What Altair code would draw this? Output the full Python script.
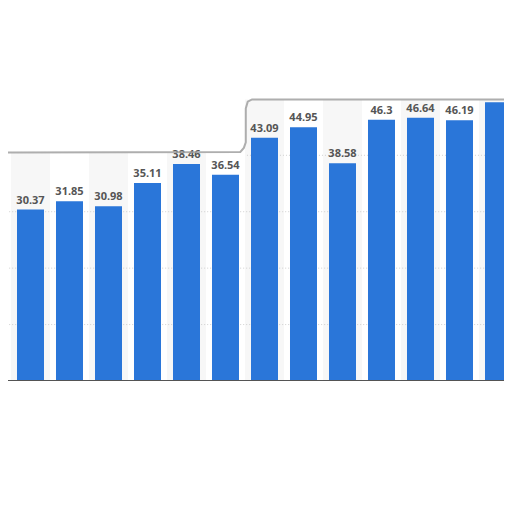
import altair as alt
import pandas as pd

# bar data (index -1 and 12 are partly cut off by the frame)
idx = [-1, 0, 1, 2, 3, 4, 5, 6, 7, 8, 9, 10, 11, 12]
values = [28.75, 30.37, 31.85, 30.98, 35.11, 38.46, 36.54, 43.09, 44.95, 38.58, 46.3, 46.64, 46.19, 49.4]
labels = ["28.75", "30.37", "31.85", "30.98", "35.11", "38.46", "36.54", "43.09", "44.95", "38.58", "46.3", "46.64", "46.19", ""]

# panel (card) top edge per column, in value units
panel_top = [40.5, 40.5, 40.5, 40.5, 40.5, 40.5, 40.5, 49.9, 49.9, 49.9, 49.9, 49.9, 49.9, 49.9]

# outline of the card edge (step with rounded corners)
outline_idx = [-0.7, 5.38, 5.47, 5.52, 5.52, 5.57, 5.68, 12.5]
outline_val = [40.5, 40.6, 41.3, 42.3, 48.3, 49.5, 49.9, 49.9]

# gridlines
grid_vals = [10, 20, 30, 40]
grid_start = [-0.7, -0.7, -0.7, 5.55]
grid_end = [12.4, 12.4, 12.4, 12.4]

df = pd.DataFrame({"i": idx, "v": values, "lab": labels, "top": panel_top})
df_out = pd.DataFrame({"i": outline_idx, "v": outline_val})
df_grid = pd.DataFrame({"g": grid_vals, "s": grid_start, "e": grid_end})

W, H = 496, 373
xs = alt.Scale(domain=[-0.5769, -0.5769 + W / 39.0], nice=False, zero=False, padding=0)
ys = alt.Scale(domain=[0, 66.1], nice=False, zero=False, padding=0)

stripes = alt.Chart(df).transform_filter("datum.i % 2 == 0").transform_calculate(
    x1="datum.i - 0.5", x2="datum.i + 0.5"
).mark_rect(color="#f7f7f7", clip=True).encode(
    x=alt.X("x1:Q", scale=xs, axis=None),
    x2="x2:Q",
    y=alt.Y("top:Q", scale=ys, axis=None),
    y2=alt.datum(0),
)

grid = alt.Chart(df_grid).mark_rule(color="#cfcfcf", strokeDash=[1, 2], strokeWidth=1, clip=True).encode(
    x=alt.X("s:Q", scale=xs, axis=None),
    x2="e:Q",
    y=alt.Y("g:Q", scale=ys, axis=None),
)

bars = alt.Chart(df).mark_bar(size=27, color="#2a76d9", clip=True).encode(
    x=alt.X("i:Q", scale=xs, axis=None),
    y=alt.Y("v:Q", scale=ys, axis=None),
)

text = alt.Chart(df).mark_text(
    dy=-6, baseline="alphabetic", font="Open Sans", fontSize=11, fontWeight="bold", color="#555555", clip=True
).encode(
    x=alt.X("i:Q", scale=xs, axis=None),
    y=alt.Y("v:Q", scale=ys, axis=None),
    text="lab:N",
)

outline = alt.Chart(df_out).mark_line(color="#a0a0a0", strokeWidth=2, opacity=0.85, clip=True).encode(
    x=alt.X("i:Q", scale=xs, axis=None),
    y=alt.Y("v:Q", scale=ys, axis=None),
    order="i:Q",
)

baseline = alt.Chart(df_grid).mark_rule(color="#555555", strokeWidth=1.5).encode(
    x=alt.value(0), x2=alt.value(W), y=alt.value(H)
)

chart = alt.layer(stripes, grid, bars, text, outline, baseline).properties(
    width=W, height=H, autosize=alt.AutoSizeParams(type="none"), padding=0
).configure_view(strokeWidth=0)

chart.save("out.html", embed_options={"renderer": "svg", "actions": False})
